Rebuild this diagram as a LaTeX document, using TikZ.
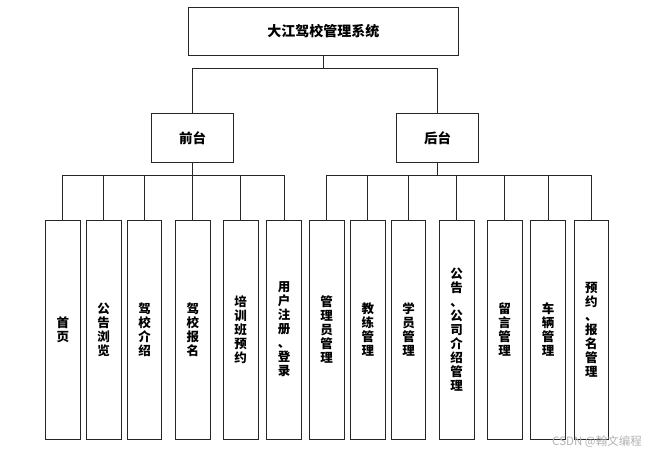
\documentclass[tikz,border=0pt]{standalone}
\usepackage{fontspec}
\newfontfamily\cjk{Noto Sans CJK SC}
\begin{document}
\begin{tikzpicture}[x=1pt,y=-1pt,
  box/.style={draw=black!85,line width=0.8pt,fill=white,inner sep=0pt,align=center},
  topbox/.style={box,minimum width=270pt,minimum height=48.4pt,font=\cjk\bfseries\fontsize{14}{16}\selectfont},
  midbox/.style={box,minimum width=81.6pt,minimum height=49pt,font=\cjk\bfseries\fontsize{13.5}{16}\selectfont},
  leaf/.style={box,minimum width=34.5pt,minimum height=219pt,font=\cjk\bfseries\fontsize{12.5}{14}\selectfont},
  conn/.style={draw=black!85,line width=0.8pt}]
\useasboundingbox (0,0) rectangle (648,455);
\node[topbox] (top) at (323.3,31.5) {大江驾校管理系统};
\node[midbox] (front) at (192.5,137.8) {前台};
\node[midbox] (back) at (437.5,137.8) {后台};
\coordinate (y1) at (0,68.7);
\coordinate (y2) at (0,175);
\draw[conn] (top.south) -- (top.south |- y1) -| (front.north);
\draw[conn] (top.south |- y1) -| (back.north);
% front leaves
\node[leaf] (f1) at (62.8,329.5) {首\\页};
\node[leaf] (f2) at (103.7,329.5) {公\\告\\浏\\览};
\node[leaf] (f3) at (144.5,329.5) {驾\\校\\介\\绍};
\node[leaf] (f4) at (192.8,329.5) {驾\\校\\报\\名};
\node[leaf] (f5) at (240.7,329.5) {培\\训\\班\\预\\约};
\node[leaf] (f6) at (284,329.5) {用\\户\\注\\册\\、\\登\\录};
% back leaves
\node[leaf] (b1) at (326.7,329.5) {管\\理\\员\\管\\理};
\node[leaf] (b2) at (367.8,329.5) {教\\练\\管\\理};
\node[leaf] (b3) at (408.5,329.5) {学\\员\\管\\理};
\node[leaf] (b4) at (456.7,329.5) {公\\告\\、\\公\\司\\介\\绍\\管\\理};
\node[leaf] (b5) at (504.7,329.5) {留\\言\\管\\理};
\node[leaf] (b6) at (548,329.5) {车\\辆\\管\\理};
\node[leaf] (b7) at (591.3,329.5) {预\\约\\、\\报\\名\\管\\理};
\draw[conn] (front.south) -- (front.south |- y2);
\foreach \n in {f1,f2,f3,f4,f5,f6}{\draw[conn] (front.south |- y2) -| (\n.north);}
\draw[conn] (back.south) -- (back.south |- y2);
\foreach \n in {b1,b2,b3,b4,b5,b6,b7}{\draw[conn] (back.south |- y2) -| (\n.north);}
\node[text=black!30,font=\cjk\fontsize{11.5}{13}\selectfont,inner sep=0pt] (wm) at (597,441.5) {CSDN @翰文编程};
\end{tikzpicture}
\end{document}
